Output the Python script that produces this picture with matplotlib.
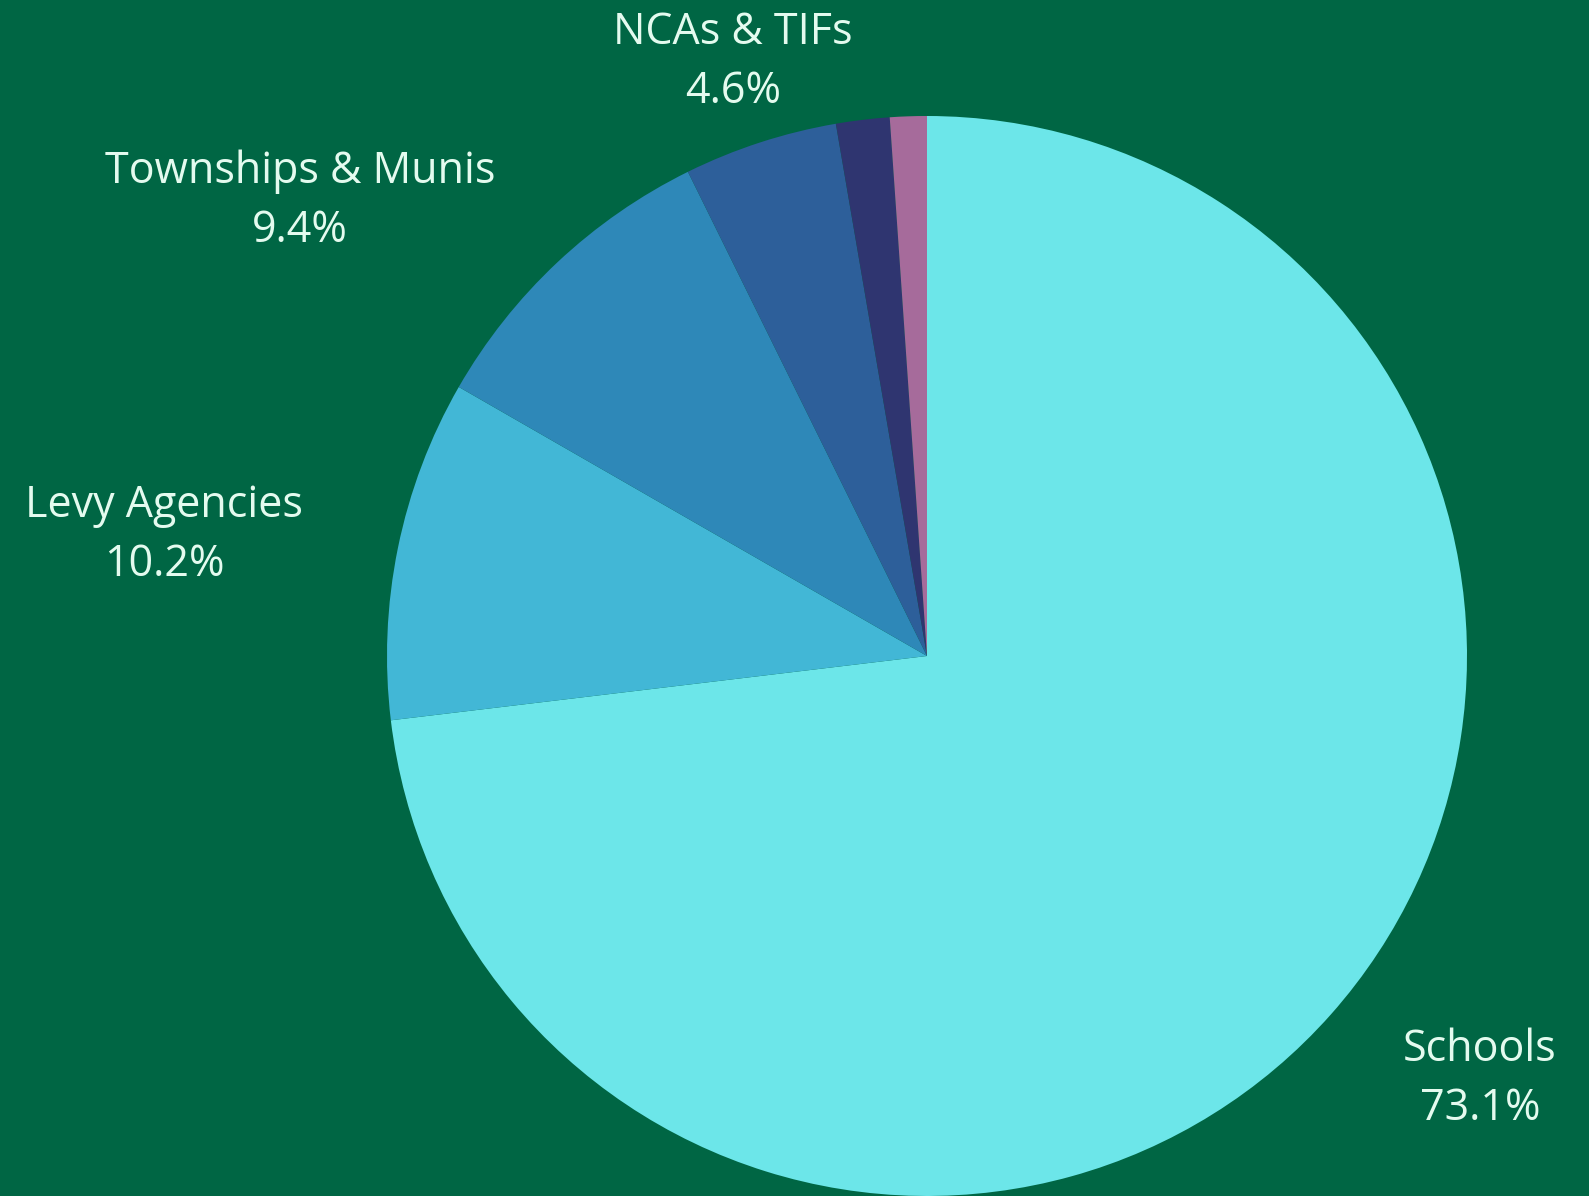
import matplotlib
matplotlib.use("Agg")
import matplotlib.pyplot as plt

# slice data, clockwise from 12 o'clock
categories = ["Schools", "Levy Agencies", "Townships & Munis", "NCAs & TIFs", "Other A", "Other B"]
shares = [73.1, 10.2, 9.4, 4.6, 1.6, 1.1]
colors = ["#6ce6e9", "#42b7d6", "#2e88b8", "#2d5f9a", "#2f3570", "#a66b9b"]
shown = ["Schools", "Levy Agencies", "Townships & Munis", "NCAs & TIFs"]

bg = "#006644"
txt = "#e4fbef"

plt.rcParams['font.family'] = ['Open Sans', 'DejaVu Sans']

W, H = 1589, 1196
fig = plt.figure(figsize=(W / 100, H / 100), dpi=100, facecolor=bg)
ax = fig.add_axes([0, 0, 1, 1])
ax.set_facecolor(bg)

cx, cy, r = 927, H - 656, 540
ax.pie(shares, colors=colors, startangle=90, counterclock=False,
       center=(cx, cy), radius=r, wedgeprops=dict(linewidth=0), frame=True)
ax.set_xlim(0, W)
ax.set_ylim(0, H)
ax.set_aspect('equal')
ax.axis('off')

# label anchor points in pixels (x, y from top)
label_pos = {
    "NCAs & TIFs": (733, 62),
    "Townships & Munis": (300, 201),
    "Levy Agencies": (164, 535),
    "Schools": (1480, 1079),
}
for name in shown:
    val = shares[categories.index(name)]
    x, y = label_pos[name]
    ax.text(x, H - y, f"{name}\n{val}%", color=txt, fontsize=31,
            ha='center', va='center', linespacing=1.42)

fig.savefig("out.png", dpi=100, facecolor=bg)
